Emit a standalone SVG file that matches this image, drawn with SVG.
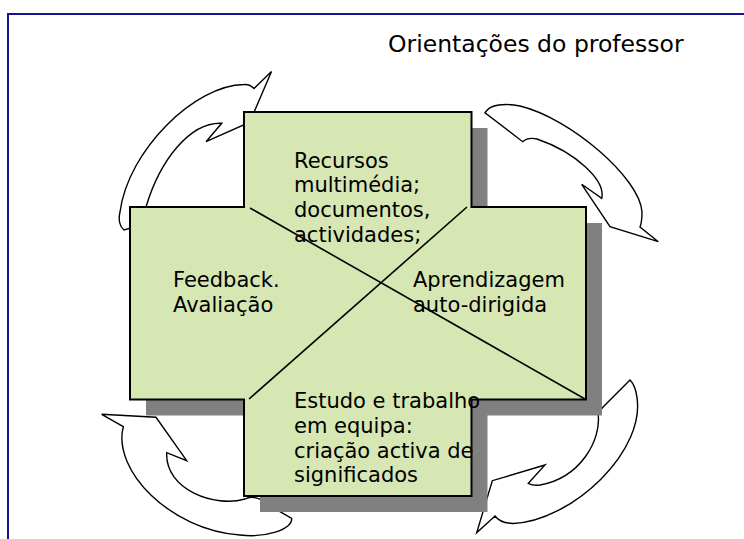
<svg xmlns="http://www.w3.org/2000/svg" width="744" height="539" viewBox="0 0 744 539">
<style>
.t{font-family:"DejaVu Sans","Verdana",sans-serif;font-size:21px;fill:#000}
.arrow{fill:#fff;stroke:#000;stroke-width:1.4;stroke-linejoin:miter}
.diag{stroke:#000;stroke-width:1.6;fill:none}
</style>
<rect x="0" y="0" width="744" height="539" fill="#fff"/>
<path d="M8,545 L8,14 L752,14" fill="none" stroke="#15158e" stroke-width="2"/>
<g id="title"><text x="388" y="52" class="t" style="font-size:23.5px">Orientações do professor</text></g>
<g id="connectors">
<path class="arrow" d="M271.5,71.5 L254,88.5 Q250,84 244,84.5 C195,85 128,150 120,212 C118,220 120,227 124,230 L138,226 L146,207 C160,160 190,122 221.7,123.3 L206,141.7 L249.8,122.1 Z"/>
<path class="arrow" d="M485,112.7 C490,104 505,103 520,106 C570,118 640,178 642,212 Q642,222 640,227 L658.3,241.7 L610,226.7 L581.7,184.3 L601.7,198.3 C606,180 575,152 537,139 Q528,137 522.7,141.7 Z"/>
<path class="arrow" d="M101.7,414.3 L123.3,426.7 C112,470 170,530 240,535 C265,538 292,530 291.7,518.3 L280,511.7 L262,500 Q252,495 245,499 C215,508 165,490 166.7,452.7 L186.7,460.7 L156,417.3 Z"/>
<path class="arrow" d="M476.7,532.7 L495,516 Q500,523 513,523.5 C570,522 650,450 636,392 Q634,384 630,380 L603.3,406.7 L598,413 C602,440 580,478 540,485 Q533,486 528.3,483.3 L545,465 L492.3,480.7 Z"/>
</g>
<g id="cross">
<polygon points="260,128 487.5,128 487.5,223 602,223 602,415.5 487.5,415.5 487.5,512 260,512 260,415.5 146,415.5 146,223 260,223" fill="#808080"/>
<polygon points="244,112 471.5,112 471.5,207 586,207 586,399.5 471.5,399.5 471.5,496 244,496 244,399.5 130,399.5 130,207 244,207" fill="#d7e7b4" stroke="#000" stroke-width="2"/>
<line class="diag" x1="250" y1="208" x2="585" y2="399"/>
<line class="diag" x1="467" y1="207" x2="249" y2="399"/>
</g>
<g id="node-recursos">
<text class="t" x="294" y="167.5">Recursos</text>
<text class="t" x="294" y="192.2">multimédia;</text>
<text class="t" x="294" y="216.9">documentos,</text>
<text class="t" x="294" y="241.6">actividades;</text>
</g>
<g id="node-feedback">
<text class="t" x="173" y="287.3">Feedback.</text>
<text class="t" x="173" y="311.7">Avaliação</text>
</g>
<g id="node-aprendizagem">
<text class="t" x="413" y="287.3">Aprendizagem</text>
<text class="t" x="413" y="311.7">auto-dirigida</text>
</g>
<g id="node-estudo">
<text class="t" x="294" y="408.3">Estudo e trabalho</text>
<text class="t" x="294" y="433">em equipa:</text>
<text class="t" x="294" y="457.6">criação activa de</text>
<text class="t" x="294" y="482">significados</text>
</g>
</svg>
